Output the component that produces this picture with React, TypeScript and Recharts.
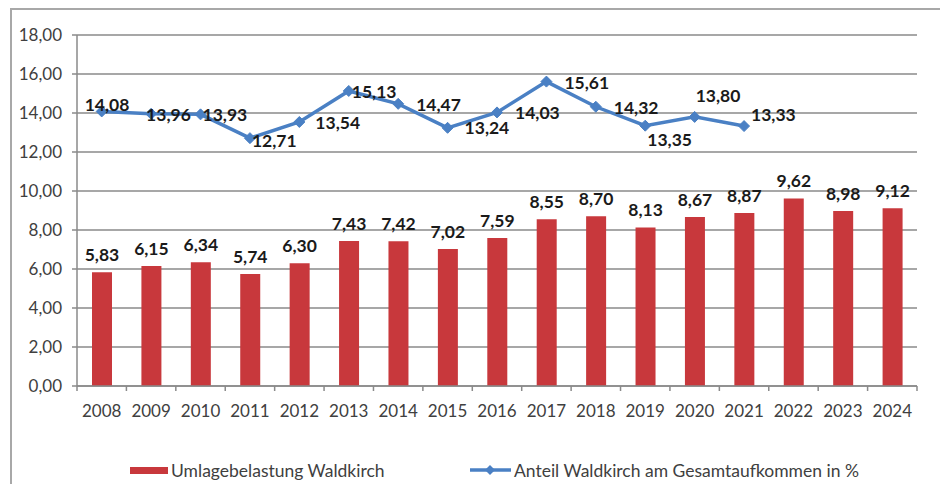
import React from 'react';
import { ComposedChart, Bar, Line, XAxis, YAxis, CartesianGrid, LabelList } from 'recharts';

const years = ['2008', '2009', '2010', '2011', '2012', '2013', '2014', '2015', '2016', '2017', '2018', '2019', '2020', '2021', '2022', '2023', '2024'];
const umlagebelastung = [5.83, 6.15, 6.34, 5.74, 6.3, 7.43, 7.42, 7.02, 7.59, 8.55, 8.7, 8.13, 8.67, 8.87, 9.62, 8.98, 9.12];
const anteil: (number | null)[] = [14.08, 13.96, 13.93, 12.71, 13.54, 15.13, 14.47, 13.24, 14.03, 15.61, 14.32, 13.35, 13.8, 13.33, null, null, null];
const yTicks = [0, 2, 4, 6, 8, 10, 12, 14, 16, 18];

const barName = 'Umlagebelastung Waldkirch';
const lineName = 'Anteil Waldkirch am Gesamtaufkommen in %';

// label placement for the line series: [dx to text start, dy to text centre]
const lineLabelOffsets: [number, number][] = [
  [-17, -7], [-5, 1], [2, 0], [2, 2], [16, 1], [3, 1], [18, 1], [17, 0], [18, 0], [18, 1], [18, 1], [2, 14], [1, -21], [7, -12],
];

const data = years.map((y, i) => ({ year: y, bar: umlagebelastung[i], line: anteil[i] }));

const W = 948;
const H = 492;
const MARGIN = { top: 35, right: 31, bottom: 76, left: 0 };
const Y_AXIS_W = 77;
const X_AXIS_H = 30;
const PLOT_W = W - MARGIN.left - MARGIN.right - Y_AXIS_W;
const X_TICK_SIZE = 5;
const X_TICK_MARGIN = 14;

const FONT = "Lato, 'Open Sans', sans-serif";
const BAR_COLOR = '#C8383C';
const LINE_COLOR = '#4A80C4';
const AXIS_COLOR = '#8a8a8a';
const TEXT_COLOR = '#404040';
const TICK_FS = 17;
const LABEL_FS = 17.5;
const LEGEND_FS = 17.5;

const fmt = (v: any) => (v == null ? '' : Number(v).toFixed(2).replace('.', ','));

const XTick = (props: any) => {
  const { x, y, payload, index } = props;
  const axisY = y - X_TICK_SIZE - X_TICK_MARGIN;
  const bw = PLOT_W / years.length;
  return (
    <g>
      <line x1={x - bw / 2} x2={x - bw / 2} y1={axisY} y2={axisY + 5} stroke={AXIS_COLOR} strokeWidth={1.5} />
      {index === years.length - 1 && (
        <line x1={x + bw / 2} x2={x + bw / 2} y1={axisY} y2={axisY + 5} stroke={AXIS_COLOR} strokeWidth={1.5} />
      )}
      <text x={x} y={y + 12} textAnchor="middle" fontSize={TICK_FS} fill={TEXT_COLOR} fontFamily={FONT}>
        {payload.value}
      </text>
    </g>
  );
};

const Diamond = (props: any) => {
  const { cx, cy, value } = props;
  if (value == null || cx == null || cy == null) return null;
  const r = 5.5;
  return (
    <path
      d={`M${cx},${cy - r} L${cx + r},${cy} L${cx},${cy + r} L${cx - r},${cy} Z`}
      fill={LINE_COLOR}
      stroke={LINE_COLOR}
      strokeWidth={1}
    />
  );
};

const LineLabel = (props: any) => {
  const { x, y, value, index } = props;
  if (value == null || x == null || y == null) return null;
  const off = lineLabelOffsets[index] || [4, 0];
  return (
    <text
      x={x + off[0]}
      y={y + off[1]}
      dominantBaseline="central"
      textAnchor="start"
      fontSize={LABEL_FS}
      fontWeight="bold"
      fill="#1a1a1a"
      fontFamily={FONT}
    >
      {fmt(value)}
    </text>
  );
};

export default function App() {
  return (
    <div style={{ position: 'relative', width: W, height: H, margin: -8, overflow: 'hidden', background: '#fff' }}>
      <div
        style={{
          position: 'absolute',
          left: 10,
          top: 8,
          width: W + 40,
          height: H + 40,
          border: '2px solid #a8a8a8',
          boxSizing: 'border-box',
        }}
      />
      <div style={{ position: 'absolute', left: 0, top: 0 }}>
        <ComposedChart width={W} height={H} data={data} margin={MARGIN} style={{ fontFamily: FONT }}>
          <CartesianGrid vertical={false} stroke={AXIS_COLOR} strokeWidth={1.5} />
          <XAxis
            dataKey="year"
            height={X_AXIS_H}
            tickLine={false}
            tickSize={X_TICK_SIZE}
            tickMargin={X_TICK_MARGIN}
            axisLine={{ stroke: AXIS_COLOR, strokeWidth: 1.5 }}
            tick={<XTick />}
            interval={0}
          />
          <YAxis
            width={Y_AXIS_W}
            domain={[0, 18]}
            ticks={yTicks}
            interval={0}
            tickFormatter={fmt}
            tickSize={5}
            tickMargin={10}
            tickLine={{ stroke: AXIS_COLOR, strokeWidth: 1.5 }}
            axisLine={{ stroke: AXIS_COLOR, strokeWidth: 1.5 }}
            tick={{ fill: TEXT_COLOR, fontSize: TICK_FS, fontFamily: FONT }}
          />
          <Bar dataKey="bar" name={barName} fill={BAR_COLOR} barSize={20} isAnimationActive={false}>
            <LabelList
              dataKey="bar"
              position="top"
              offset={11}
              formatter={fmt}
              fill="#1a1a1a"
              fontSize={LABEL_FS}
              fontWeight="bold"
              fontFamily={FONT}
            />
          </Bar>
          <Line
            dataKey="line"
            name={lineName}
            stroke={LINE_COLOR}
            strokeWidth={3.5}
            dot={<Diamond />}
            activeDot={false}
            connectNulls={false}
            isAnimationActive={false}
          >
            <LabelList dataKey="line" content={<LineLabel />} />
          </Line>
        </ComposedChart>
      </div>
      <svg width={W} height={H} style={{ position: 'absolute', left: 0, top: 0, pointerEvents: 'none' }}>
        <rect x={130} y={467} width={38} height={7} fill={BAR_COLOR} />
        <text x={171} y={470} dominantBaseline="central" fontSize={LEGEND_FS} fill={TEXT_COLOR} fontFamily={FONT}>
          {barName}
        </text>
        <line x1={470} x2={511} y1={470} y2={470} stroke={LINE_COLOR} strokeWidth={3.5} />
        <path d="M490,465 L495,470 L490,475 L485,470 Z" fill={LINE_COLOR} />
        <text x={514} y={470} dominantBaseline="central" fontSize={LEGEND_FS} fill={TEXT_COLOR} fontFamily={FONT}>
          {lineName}
        </text>
      </svg>
    </div>
  );
}
